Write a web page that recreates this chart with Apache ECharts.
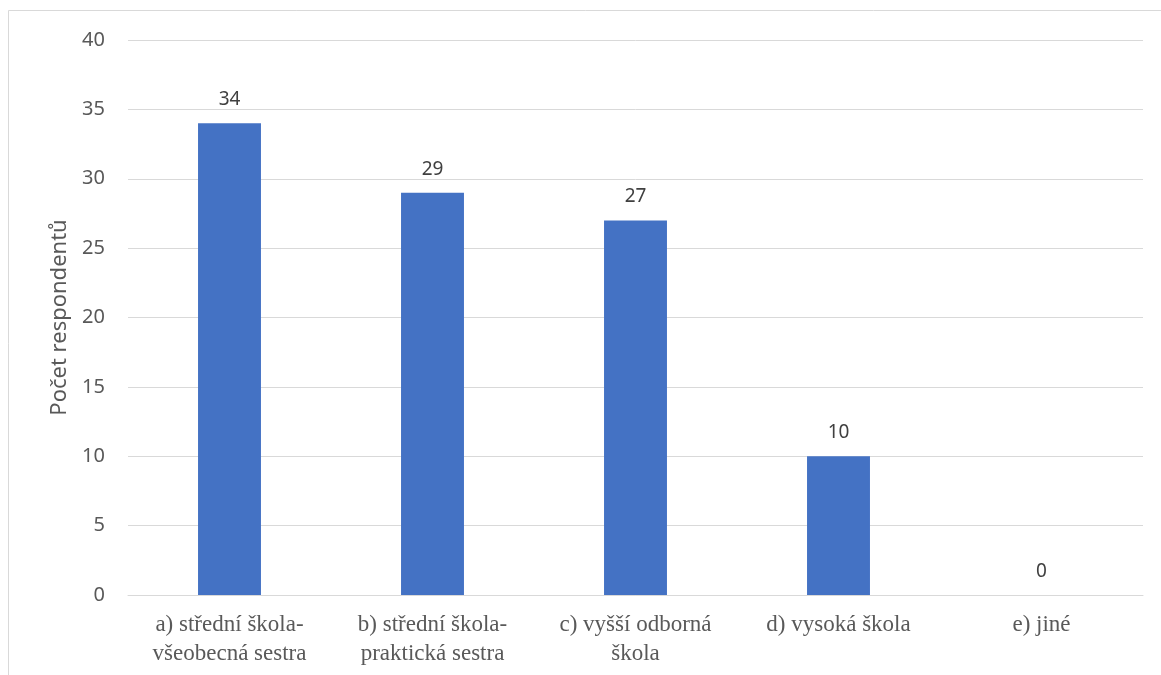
<!DOCTYPE html>
<html>
<head>
<meta charset="utf-8">
<script src="https://cdn.jsdelivr.net/npm/echarts@6/dist/echarts.min.js"></script>
<style>
  html, body { margin: 0; padding: 0; background: #fff; }
  #chart { width: 1161px; height: 675px; }
</style>
</head>
<body>
<div id="chart"></div>
<script>
// Vzdělání respondentů
const categories = [
  'a) střední škola-\nvšeobecná sestra',
  'b) střední škola-\npraktická sestra',
  'c) vyšší odborná\nškola',
  'd) vysoká škola',
  'e) jiné'
];
const counts = [34, 29, 27, 10, 0];
const yAxisTitle = 'Počet respondentů';

const chart = echarts.init(document.getElementById('chart'), null, { renderer: 'canvas' });

chart.setOption({
  animation: false,
  backgroundColor: '#ffffff',
  graphic: [{
    type: 'rect',
    shape: { x: 8.5, y: 10.5, width: 1170, height: 700 },
    style: { fill: 'none', stroke: '#d9d9d9', lineWidth: 1 },
    silent: true
  }],
  grid: { left: 128, right: 18, top: 40, bottom: 80, containLabel: false },
  xAxis: {
    type: 'category',
    data: categories,
    axisLine: { lineStyle: { color: '#d9d9d9', width: 1 } },
    axisTick: { show: false },
    axisLabel: {
      interval: 0,
      margin: 15,
      color: '#595959',
      fontFamily: 'Liberation Serif',
      fontSize: 23,
      lineHeight: 29
    }
  },
  yAxis: {
    type: 'value',
    min: 0,
    max: 40,
    interval: 5,
    name: yAxisTitle,
    nameLocation: 'middle',
    nameGap: 57,
    nameRotate: 90,
    nameTextStyle: { color: '#595959', fontFamily: 'Noto Sans', fontSize: 22 },
    axisLine: { show: false },
    axisTick: { show: false },
    axisLabel: { color: '#595959', fontFamily: 'Noto Sans', fontSize: 20, margin: 23 },
    splitLine: { lineStyle: { color: '#d9d9d9', width: 1 } }
  },
  series: [{
    type: 'bar',
    data: counts,
    barWidth: '31%',
    itemStyle: { color: '#4472c4' },
    label: {
      show: true,
      position: 'top',
      distance: 14,
      color: '#404040',
      fontFamily: 'Noto Sans',
      fontSize: 19
    }
  }]
});
</script>
</body>
</html>
